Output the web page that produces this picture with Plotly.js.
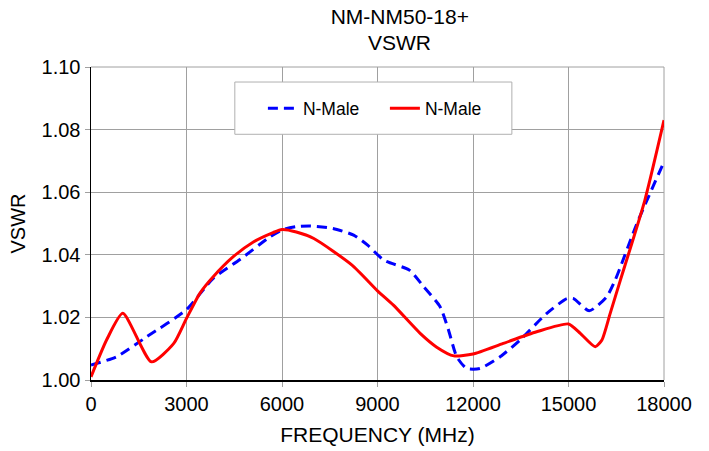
<!DOCTYPE html>
<html>
<head>
<meta charset="utf-8">
<script src="https://cdn.plot.ly/plotly-3.0.1.min.js"></script>
<style>html,body{margin:0;padding:0;background:#fff;}#chart{width:709px;height:451px;}</style>
</head>
<body>
<div id="chart"></div>
<script>
var freqBlue = [0, 800, 1750, 3000, 3840, 4680, 5620, 6040, 6460, 6900, 7600, 8250, 8700, 9200, 10000, 10450, 10966, 11230, 11490, 11800, 12220, 12850, 13480, 14320, 14950, 15160, 15650, 16200, 16470, 17150, 18000];
var vswrBlue = [1.0048, 1.0074, 1.0138, 1.0225, 1.0325, 1.0385, 1.0457, 1.0481, 1.0490, 1.0492, 1.0484, 1.0463, 1.0430, 1.0383, 1.0351, 1.0298, 1.0234, 1.0160, 1.0074, 1.0037, 1.0037, 1.0074, 1.0128, 1.0213, 1.0260, 1.0260, 1.0221, 1.0266, 1.0320, 1.0500, 1.0697];
var freqRed = [0, 500, 1000, 1900, 2600, 3000, 3420, 3840, 4470, 5100, 5720, 6000, 6450, 7000, 8200, 9000, 9500, 10340, 10860, 11400, 12000, 12950, 14000, 15000, 15370, 15840, 16050, 16310, 16630, 17400, 18000];
var vswrRed = [1.0010, 1.0130, 1.0213, 1.0058, 1.0117, 1.0197, 1.0277, 1.0330, 1.0394, 1.0441, 1.0471, 1.0481, 1.0473, 1.0452, 1.0367, 1.0285, 1.0239, 1.0149, 1.0105, 1.0077, 1.0083, 1.0117, 1.0154, 1.0179, 1.0149, 1.0106, 1.0128, 1.0213, 1.0319, 1.0575, 1.0830];
var seriesNames = ['N-Male', 'N-Male'];
var titleLines = ['NM-NM50-18+', 'VSWR'];
var xTicks = [0, 3000, 6000, 9000, 12000, 15000, 18000];
var yTicks = [1.00, 1.02, 1.04, 1.06, 1.08, 1.10];

var font = 'Liberation Sans, Arial, sans-serif';
var traces = [
  {x: freqBlue, y: vswrBlue, name: seriesNames[0], mode: 'lines', type: 'scatter',
   line: {color: '#0000ff', width: 3, dash: '10px,6px', shape: 'spline', smoothing: 0.6}},
  {x: freqRed, y: vswrRed, name: seriesNames[1], mode: 'lines', type: 'scatter',
   line: {color: '#ff0000', width: 3, shape: 'spline', smoothing: 0.6}}
];
var layout = {
  width: 709, height: 451,
  margin: {l: 91, r: 45, t: 67, b: 71},
  paper_bgcolor: '#ffffff', plot_bgcolor: '#ffffff',
  font: {family: font, color: '#000'},
  title: {text: titleLines[0], font: {size: 21, family: font, color: '#000'},
          x: 0.539, xanchor: 'center', xref: 'paper', y: 1 - 17 / 451, yanchor: 'middle', yref: 'container'},
  annotations: [
    {text: titleLines[1], xref: 'paper', yref: 'paper', x: 0.539, xanchor: 'center',
     y: (380 - 43) / 313, yanchor: 'middle', showarrow: false,
     font: {size: 21, family: font, color: '#000'}}
  ],
  xaxis: {range: [0, 18000], tickvals: xTicks, ticktext: xTicks.map(String),
          showgrid: true, gridcolor: '#a0a0a0', gridwidth: 1,
          showline: true, linecolor: '#000', linewidth: 1.5,
          ticks: 'outside', ticklen: 5, tickcolor: '#a0a0a0',
          tickfont: {size: 20, family: font, color: '#000'},
          zeroline: false,
          title: {text: 'FREQUENCY (MHz)', font: {size: 21, family: font, color: '#000'}, standoff: 14}},
  yaxis: {range: [1.0, 1.10], tickvals: yTicks, ticktext: yTicks.map(function(v){return v.toFixed(2);}),
          showgrid: true, gridcolor: '#a0a0a0', gridwidth: 1,
          showline: true, linecolor: '#000', linewidth: 1.5,
          ticks: 'outside', ticklen: 5, tickcolor: '#a0a0a0',
          tickfont: {size: 20, family: font, color: '#000'},
          zeroline: false,
          title: {text: 'VSWR', font: {size: 20, family: font, color: '#000'}, standoff: 10}},
  shapes: [
    {type: 'rect', xref: 'paper', yref: 'paper', x0: 0.251, x1: 0.7345, y0: 0.785, y1: 0.952,
     fillcolor: '#ffffff', line: {color: '#b0b0b0', width: 1}, layer: 'above'},
    {type: 'line', xref: 'paper', yref: 'paper', x0: 0, x1: 1, y0: 1, y1: 1, line: {color: '#a0a0a0', width: 1}, layer: 'below'},
    {type: 'line', xref: 'paper', yref: 'paper', x0: 1, x1: 1, y0: 0, y1: 1, line: {color: '#a0a0a0', width: 1}, layer: 'below'}
  ],
  legend: {orientation: 'h', x: 0.300, xanchor: 'left', y: 0.868, yanchor: 'middle',
           bgcolor: 'rgba(0,0,0,0)', borderwidth: 0, entrywidth: 77,
           font: {size: 17.5, family: font, color: '#000'}},
  showlegend: true
};
Plotly.newPlot('chart', traces, layout, {displayModeBar: false, staticPlot: true});
</script>
</body>
</html>
